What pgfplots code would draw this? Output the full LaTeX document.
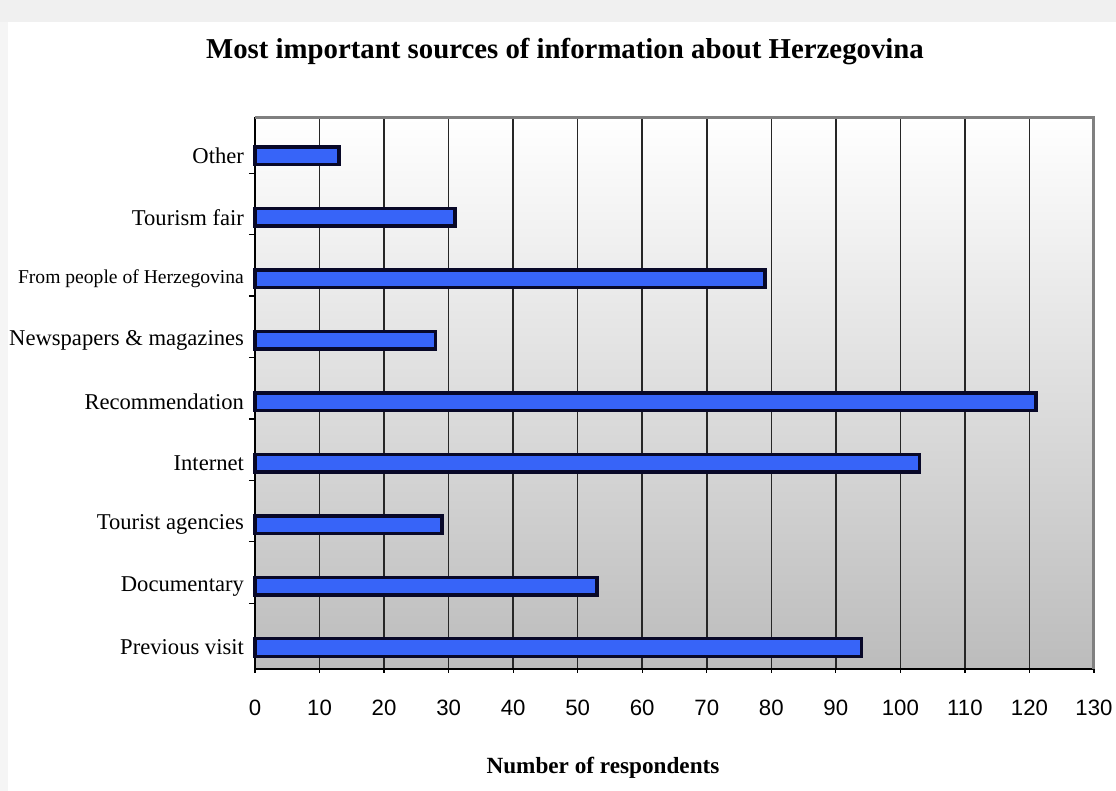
\documentclass[border=0pt]{standalone}
\usepackage{fontspec}
\setmainfont{Liberation Serif}
\newfontfamily\arialfont{Liberation Sans}
\usepackage{pgfplots}
\pgfplotsset{compat=1.18}
\definecolor{barblue}{RGB}{55,100,248}
\definecolor{baredge}{RGB}{8,8,40}
\definecolor{framegray}{RGB}{128,128,128}
\definecolor{bgbottom}{RGB}{188,188,188}
\begin{document}
\begin{tikzpicture}
\path[use as bounding box] (-127.5pt,-61pt) rectangle (430.5pt,334.5pt);
\fill[white] (-127.5pt,-61pt) rectangle (430.5pt,334.5pt);
\fill[gray!12] (-127.5pt,323.5pt) rectangle (430.5pt,334.5pt);
\fill[gray!8] (-127.5pt,-61pt) rectangle (-123.5pt,323.5pt);
\begin{axis}[
  scale only axis, width=419.5pt, height=276pt,
  at={(0,0)}, anchor=south west,
  clip=false,
  xbar, bar width=8.8pt,
  xmin=0, xmax=130, ymin=-0.35, ymax=8.634,
  xtick={0,10,...,130},
  ytick={0,...,8},
  yticklabels={Previous visit, Documentary, Tourist agencies, Internet, Recommendation, Newspapers \& magazines, {\fontsize{9.8}{11}\selectfont From people of Herzegovina}, Tourism fair, Other},
  minor ytick={0.72,1.72,...,7.72},
  axis x line*=bottom, axis y line*=left,
  axis line style={black, line width=0.7pt},
  tick align=outside,
  major tick length=2pt,
  minor tick length=3pt,
  x tick style={black, line width=0.6pt},
  major y tick style={draw=none},
  minor y tick style={black, line width=0.6pt},
  xmajorgrids, major grid style={black!85, line width=0.75pt},
  axis background/.style={top color=white, bottom color=bgbottom},
  /pgf/number format/assume math mode=true,
  xticklabel style={font=\arialfont\fontsize{11.1}{13}\selectfont, anchor=center, yshift=-17.5pt},
  yticklabel style={font=\fontsize{11.3}{13}\selectfont, anchor=east},
  every axis title shift=0pt,
  title={Most important sources of information about Herzegovina},
  title style={font=\bfseries\fontsize{14.4}{17}\selectfont, at={(axis description cs:0.3695,1.118)}, anchor=center},
  xlabel={Number of respondents},
  xlabel style={font=\bfseries\fontsize{11.6}{14}\selectfont, at={(axis description cs:0.4148,-0.179)}, anchor=center},
]
\addplot[fill=barblue, draw=baredge, line width=1.7pt] coordinates {(94,0) (53,1) (29,2) (103,3) (121,4) (28,5) (79,6) (31,7) (13,8)};
\draw[framegray, line width=1.5pt] (rel axis cs:0,1) -- (rel axis cs:1,1) -- (rel axis cs:1,0);
\end{axis}
\end{tikzpicture}
\end{document}
